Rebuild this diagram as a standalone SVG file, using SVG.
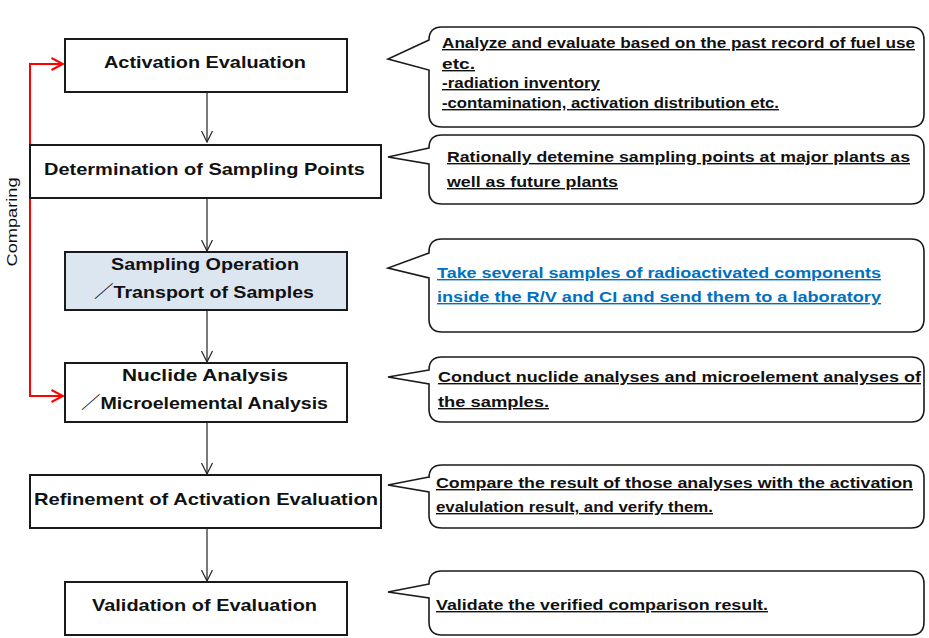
<svg xmlns="http://www.w3.org/2000/svg" width="929" height="638" viewBox="0 0 929 638">
<defs>
<style>
.box{fill:#fff;stroke:#1a1a1a;stroke-width:2}
.blue{fill:#dce6f1}
.nt{font-family:"Liberation Sans","Noto Sans CJK JP",Arial,sans-serif;font-size:17px;font-weight:bold;fill:#111}
.co{fill:#fff;stroke:#1a1a1a;stroke-width:1.6;stroke-linejoin:miter}
.ct{font-family:"Liberation Sans","Noto Sans CJK JP",Arial,sans-serif;font-size:14px;font-weight:bold;fill:#111;text-decoration:underline}
.ctb{fill:#0070c0}
.arr{stroke:#222;stroke-width:1.2;fill:none}
.red{stroke:#ff0000;stroke-width:2;fill:none}
.lbl{font-family:"Liberation Sans",Arial,sans-serif;font-size:15px;fill:#111}
</style>
<marker id="ah" viewBox="0 0 12 12" refX="11" refY="6" markerWidth="12" markerHeight="12" markerUnits="userSpaceOnUse" orient="auto">
<path d="M0,0.5 L11,6 L0,11.5" fill="none" stroke="#222" stroke-width="1.2"/>
</marker>
<marker id="rh" viewBox="0 0 14 14" refX="12.5" refY="7" markerWidth="14" markerHeight="14" markerUnits="userSpaceOnUse" orient="auto">
<path d="M1,1 L12.5,7 L1,13" fill="none" stroke="#ff0000" stroke-width="2"/>
</marker>
</defs>
<rect width="929" height="638" fill="#fff"/>

<g id="connectors">
<line class="arr" x1="207" y1="93" x2="207" y2="142" marker-end="url(#ah)"/>
<line class="arr" x1="207" y1="199" x2="207" y2="251" marker-end="url(#ah)"/>
<line class="arr" x1="207" y1="311" x2="207" y2="362" marker-end="url(#ah)"/>
<line class="arr" x1="207" y1="423" x2="207" y2="474" marker-end="url(#ah)"/>
<line class="arr" x1="207" y1="529" x2="207" y2="581" marker-end="url(#ah)"/>
<path class="red" d="M63,64 H30 V396 H63"/>
<line class="red" x1="30" y1="64" x2="63" y2="64" marker-end="url(#rh)"/>
<line class="red" x1="30" y1="396" x2="63" y2="396" marker-end="url(#rh)"/>
<text class="lbl" transform="translate(17,222) rotate(-90)" text-anchor="middle" textLength="89" lengthAdjust="spacingAndGlyphs">Comparing</text>
</g>

<g id="n1">
<rect class="box" x="65" y="39" width="282" height="53"/>
<text class="nt" x="104" y="68" textLength="202" lengthAdjust="spacingAndGlyphs">Activation Evaluation</text>
</g>
<g id="n2">
<rect class="box" x="30" y="145" width="351" height="53"/>
<text class="nt" x="44" y="175" textLength="321" lengthAdjust="spacingAndGlyphs">Determination of Sampling Points</text>
</g>
<g id="n3">
<rect class="box blue" x="65" y="252" width="282" height="58"/>
<text class="nt" x="111" y="270" textLength="188" lengthAdjust="spacingAndGlyphs">Sampling Operation</text>
<text class="nt" x="94" y="298" textLength="220" lengthAdjust="spacingAndGlyphs">／Transport of Samples</text>
</g>
<g id="n4">
<rect class="box" x="65" y="363" width="282" height="59"/>
<text class="nt" x="122" y="381" textLength="166" lengthAdjust="spacingAndGlyphs">Nuclide  Analysis</text>
<text class="nt" x="81" y="409" textLength="247" lengthAdjust="spacingAndGlyphs">／Microelemental Analysis</text>
</g>
<g id="n5">
<rect class="box" x="30" y="475" width="351" height="53"/>
<text class="nt" x="34" y="505" textLength="344" lengthAdjust="spacingAndGlyphs">Refinement of Activation Evaluation</text>
</g>
<g id="n6">
<rect class="box" x="65" y="582" width="282" height="53"/>
<text class="nt" x="92" y="611" textLength="225" lengthAdjust="spacingAndGlyphs">Validation of Evaluation</text>
</g>

<g id="c1">
<path class="co" d="M429,40 L388,59 L429,70 V114 Q429,127 442,127 H911 Q924,127 924,114 V40 Q924,27 911,27 H442 Q429,27 429,40 Z"/>
<text class="ct" x="442" y="48" textLength="473" lengthAdjust="spacingAndGlyphs">Analyze and evaluate based on the past record of fuel use</text>
<text class="ct" x="442" y="69" textLength="33" lengthAdjust="spacingAndGlyphs">etc.</text>
<text class="ct" x="442" y="88" textLength="158" lengthAdjust="spacingAndGlyphs">-radiation inventory</text>
<text class="ct" x="442" y="108" textLength="337" lengthAdjust="spacingAndGlyphs">-contamination, activation distribution etc.</text>
</g>
<g id="c2">
<path class="co" d="M429,148 L388,157 L429,164 V191 Q429,204 442,204 H911 Q924,204 924,191 V148 Q924,135 911,135 H442 Q429,135 429,148 Z"/>
<text class="ct" x="447" y="162" textLength="463" lengthAdjust="spacingAndGlyphs">Rationally detemine sampling points at major plants as</text>
<text class="ct" x="447" y="187" textLength="171" lengthAdjust="spacingAndGlyphs">well as future plants</text>
</g>
<g id="c3">
<path class="co" d="M429,253 L388,268 L429,278 V319 Q429,332 442,332 H911 Q924,332 924,319 V252 Q924,239 911,239 H442 Q429,239 429,252 Z"/>
<text class="ct ctb" x="437" y="278" textLength="444" lengthAdjust="spacingAndGlyphs">Take several samples of radioactivated components</text>
<text class="ct ctb" x="437" y="302" textLength="444" lengthAdjust="spacingAndGlyphs">inside the R/V and CI and send them to a laboratory</text>
</g>
<g id="c4">
<path class="co" d="M429,370 L388,377 L429,384 V409 Q429,422 442,422 H911 Q924,422 924,409 V370 Q924,357 911,357 H442 Q429,357 429,370 Z"/>
<text class="ct" x="438" y="382" textLength="483" lengthAdjust="spacingAndGlyphs">Conduct nuclide analyses and microelement analyses of</text>
<text class="ct" x="438" y="407" textLength="111" lengthAdjust="spacingAndGlyphs">the samples.</text>
</g>
<g id="c5">
<path class="co" d="M429,477 L388,485 L429,492 V515 Q429,528 442,528 H911 Q924,528 924,515 V478 Q924,465 911,465 H442 Q429,465 429,478 Z"/>
<text class="ct" x="436" y="488" textLength="477" lengthAdjust="spacingAndGlyphs">Compare the result of those analyses with the activation</text>
<text class="ct" x="436" y="512" textLength="277" lengthAdjust="spacingAndGlyphs">evalulation result, and verify them.</text>
</g>
<g id="c6">
<path class="co" d="M429,584 L388,592 L429,598 V622 Q429,635 442,635 H911 Q924,635 924,622 V584 Q924,571 911,571 H442 Q429,571 429,584 Z"/>
<text class="ct" x="436" y="610" textLength="332" lengthAdjust="spacingAndGlyphs">Validate the verified comparison result.</text>
</g>
</svg>
